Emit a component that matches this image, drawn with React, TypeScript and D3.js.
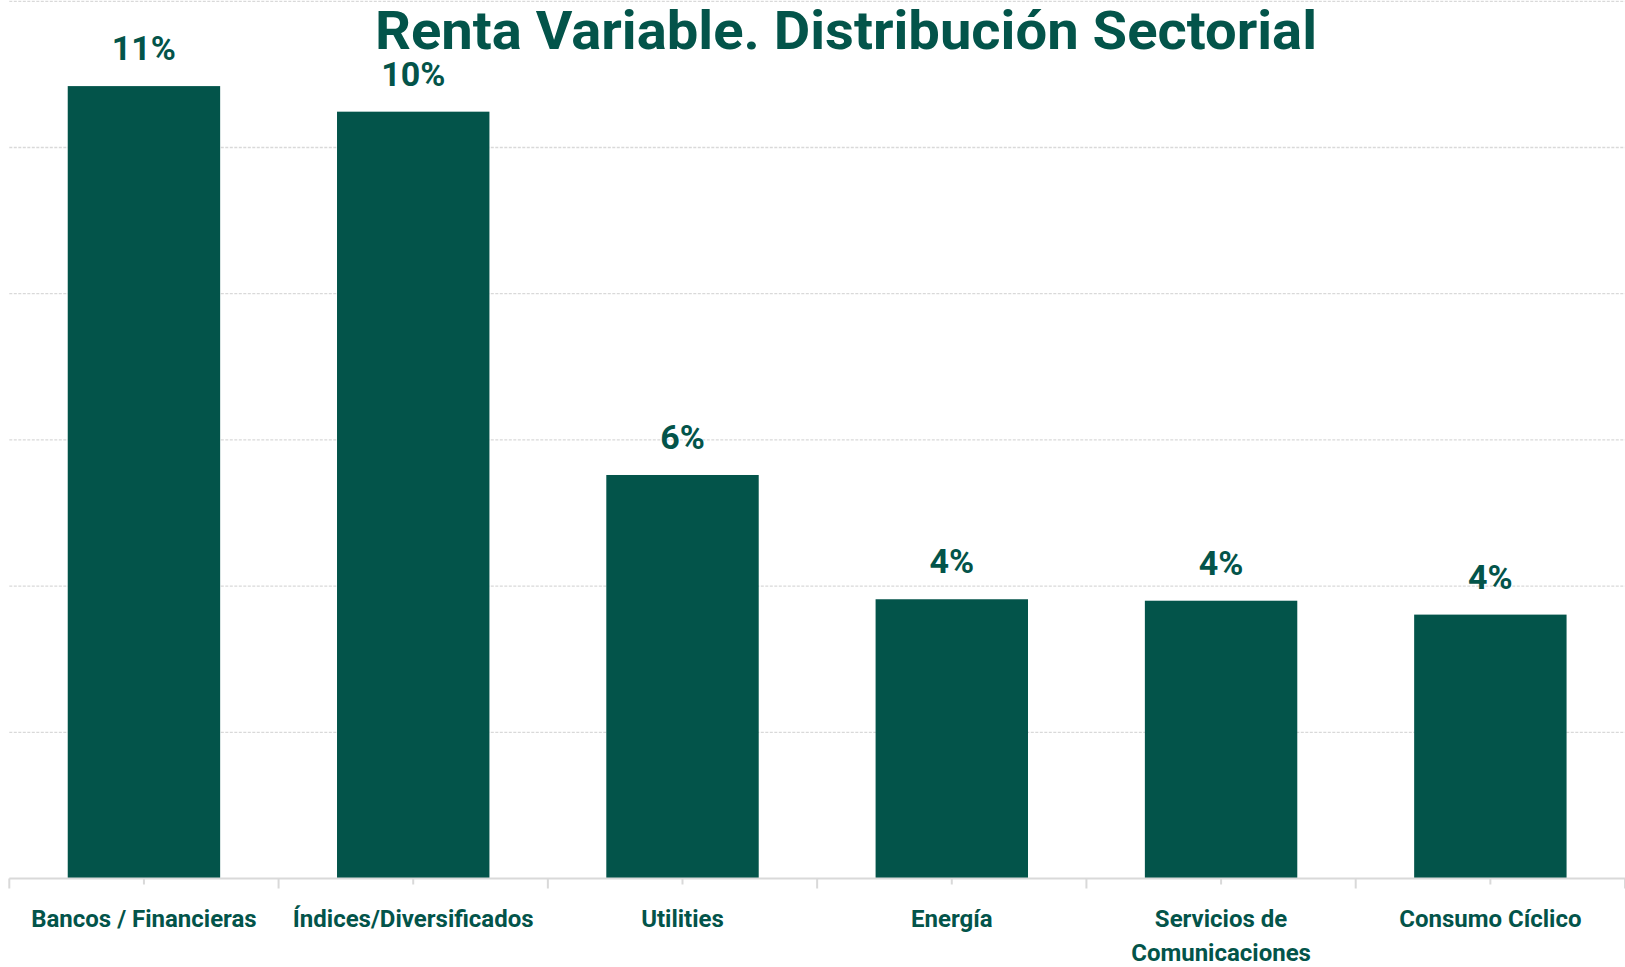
import React, { useEffect, useRef } from "react";
import { select, scaleBand, scaleLinear, range } from "d3";

// data
const categories = [
  "Bancos / Financieras",
  "Índices/Diversificados",
  "Utilities",
  "Energía",
  "Servicios de Comunicaciones",
  "Consumo Cíclico",
];
const weights = [10.84, 10.49, 5.52, 3.82, 3.8, 3.61];
const gridTicks = [2, 4, 6, 8, 10, 12];
const title = "Renta Variable. Distribución Sectorial";

const GREEN = "#03544a";
const GREY = "#d9d9d9";
const FONT = "Roboto, 'Noto Sans', sans-serif";

const W = 1625;
const H = 967;
const margin = { top: 1.3, right: 0, bottom: 88.5, left: 9.3 };

// wrap long axis labels on word boundaries
function wrap(text: any, width: number, lineHeight: number) {
  text.each(function (this: SVGTextElement) {
    const t = select(this);
    const words = t.text().split(/\s+/);
    const x = t.attr("x");
    const y = t.attr("y");
    t.text(null);
    let line: string[] = [];
    let lineNo = 0;
    let tspan = t.append("tspan").attr("x", x).attr("y", y);
    words.forEach((w) => {
      line.push(w);
      tspan.text(line.join(" "));
      if ((tspan.node() as SVGTextContentElement).getComputedTextLength() > width && line.length > 1) {
        line.pop();
        tspan.text(line.join(" "));
        line = [w];
        lineNo++;
        tspan = t.append("tspan").attr("x", x).attr("y", +y! + lineNo * lineHeight).text(w);
      }
    });
  });
}

const SectorChart = () => {
  const svgRef = useRef<SVGSVGElement>(null);

  useEffect(() => {
    const svg = select(svgRef.current);
    svg.selectAll("*").remove();

    const bottom = H - margin.bottom;

    const xScale = scaleBand<string>()
      .domain(categories)
      .range([margin.left, W - margin.right])
      .paddingInner(0.434)
      .paddingOuter(0.217);
    const yScale = scaleLinear().domain([0, 12]).range([bottom, margin.top]);

    const step = xScale.step();
    const bw = xScale.bandwidth();
    const center = (c: string) => xScale(c)! + bw / 2;

    // gridlines
    svg
      .append("g")
      .selectAll("line")
      .data(gridTicks)
      .join("line")
      .attr("x1", margin.left)
      .attr("x2", W)
      .attr("y1", (d) => yScale(d))
      .attr("y2", (d) => yScale(d))
      .attr("stroke", GREY)
      .attr("stroke-width", 1.3)
      .attr("stroke-dasharray", "3 1.5");

    // bars
    svg
      .append("g")
      .selectAll("rect")
      .data(categories)
      .join("rect")
      .attr("x", (c) => xScale(c)!)
      .attr("width", bw)
      .attr("y", (c, i) => yScale(weights[i]))
      .attr("height", (c, i) => bottom - yScale(weights[i]))
      .attr("fill", GREEN);

    // value labels
    svg
      .append("g")
      .selectAll("text")
      .data(categories)
      .join("text")
      .attr("x", (c) => center(c))
      .attr("y", (c, i) => yScale(weights[i]) - 26)
      .attr("text-anchor", "middle")
      .attr("font-family", FONT)
      .attr("font-weight", 700)
      .attr("font-size", 34)
      .attr("fill", GREEN)
      .text((c, i) => `${Math.round(weights[i])}%`);

    // x axis
    const axis = svg.append("g");
    axis
      .append("line")
      .attr("x1", margin.left)
      .attr("x2", W)
      .attr("y1", bottom)
      .attr("y2", bottom)
      .attr("stroke", GREY)
      .attr("stroke-width", 2);
    axis
      .selectAll(".edge")
      .data(range(categories.length + 1))
      .join("line")
      .attr("class", "edge")
      .attr("x1", (i) => margin.left + i * step)
      .attr("x2", (i) => margin.left + i * step)
      .attr("y1", bottom)
      .attr("y2", bottom + 10)
      .attr("stroke", GREY)
      .attr("stroke-width", 2);
    axis
      .selectAll(".mid")
      .data(categories)
      .join("line")
      .attr("class", "mid")
      .attr("x1", (c) => center(c))
      .attr("x2", (c) => center(c))
      .attr("y1", bottom)
      .attr("y2", bottom + 6)
      .attr("stroke", GREY)
      .attr("stroke-width", 2);
    axis
      .selectAll("text")
      .data(categories)
      .join("text")
      .attr("x", (c) => center(c))
      .attr("y", bottom + 48)
      .attr("text-anchor", "middle")
      .attr("font-family", FONT)
      .attr("font-weight", 700)
      .attr("font-size", 24)
      .attr("fill", GREEN)
      .text((c) => c)
      .call(wrap, 245, 34);

    // title
    svg
      .append("text")
      .attr("x", 846)
      .attr("y", 49)
      .attr("text-anchor", "middle")
      .attr("font-family", FONT)
      .attr("font-weight", 700)
      .attr("font-size", 53)
      .attr("fill", GREEN)
      .attr("textLength", 942)
      .attr("lengthAdjust", "spacingAndGlyphs")
      .text(title);
  }, []);

  return <svg ref={svgRef} width={W} height={H} style={{ display: "block" }} />;
};

export default function App() {
  return (
    <div style={{ position: "absolute", left: 0, top: 0, background: "#fff" }}>
      <SectorChart />
    </div>
  );
}
